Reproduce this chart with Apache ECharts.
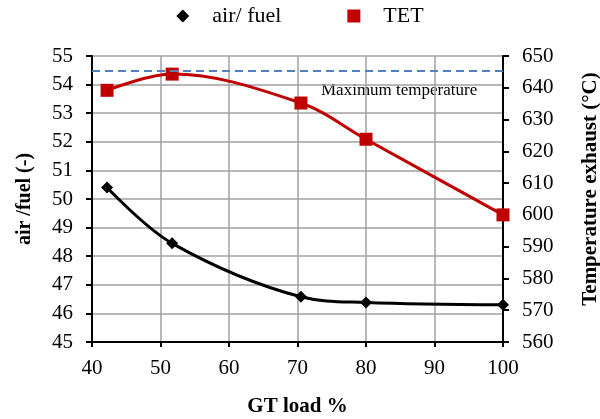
<!DOCTYPE html>
<html><head><meta charset="utf-8">
<script src="https://cdn.jsdelivr.net/npm/echarts@6/dist/echarts.min.js"></script>
<style>html,body{margin:0;padding:0;background:#fff}#c{width:600px;height:419px}</style>
</head><body><div id="c"></div>
<script>
const gtLoad = [42.2, 51.7, 70.5, 80, 100];
const airFuel = [50.4, 48.45, 46.58, 46.38, 46.3];
const tet = [639.2, 644.3, 635.2, 623.8, 600];
const maxTemp = 645.3;
const F = 'Liberation Serif, Times New Roman, serif';
const chart = echarts.init(document.getElementById('c'));
chart.setOption({
  animation: false,
  textStyle: {fontFamily: F},
  legend: {
    top: 0, left: 'center', itemGap: 66, itemWidth: 13, itemHeight: 13,
    textStyle: {fontFamily: F, fontSize: 22, color: '#000', padding: [0, 0, 0, 18]},
    data: [{name: 'air/ fuel', icon: 'diamond'}, {name: 'TET', icon: 'rect'}]
  },
  grid: {left: 92, right: 97, top: 56, bottom: 77, outerBoundsMode: 'none', containLabel: false},
  xAxis: {
    type: 'value', min: 40, max: 100, interval: 10,
    name: 'GT load %', nameLocation: 'middle', nameGap: 54,
    nameTextStyle: {fontFamily: F, fontSize: 21, fontWeight: 'bold', color: '#000'},
    axisLine: {lineStyle: {color: '#000', width: 2}},
    axisTick: {show: true, length: 5, lineStyle: {color: '#000', width: 2}},
    axisLabel: {fontFamily: F, fontSize: 21, color: '#000', margin: 16},
    splitLine: {show: true, lineStyle: {color: '#a0a0a0', width: 1.5}}
  },
  yAxis: [{
    type: 'value', min: 45, max: 55, interval: 1,
    name: 'air /fuel (-)', nameLocation: 'middle', nameGap: 57, nameRotate: 90,
    nameTextStyle: {fontFamily: F, fontSize: 20, fontWeight: 'bold', color: '#000'},
    axisLine: {show: true, lineStyle: {color: '#000', width: 2}},
    axisTick: {show: true, length: 6, lineStyle: {color: '#000', width: 2}},
    axisLabel: {fontFamily: F, fontSize: 21, color: '#000', margin: 19},
    splitLine: {show: true, lineStyle: {color: '#a0a0a0', width: 1.5}}
  }, {
    type: 'value', min: 560, max: 650, interval: 10, position: 'right',
    name: 'Temperature exhaust (°C)', nameLocation: 'middle', nameGap: 77, nameRotate: 90,
    nameTextStyle: {fontFamily: F, fontSize: 21, fontWeight: 'bold', color: '#000', padding: [0, 0, 0, 20]},
    axisLine: {show: true, lineStyle: {color: '#000', width: 2}},
    axisTick: {show: true, length: 6, lineStyle: {color: '#000', width: 2}},
    axisLabel: {fontFamily: F, fontSize: 21, color: '#000', margin: 19},
    splitLine: {show: false}
  }],
  series: [{
    name: 'air/ fuel', type: 'line', yAxisIndex: 0, smooth: 0.35,
    data: gtLoad.map((x, i) => [x, airFuel[i]]),
    symbol: 'diamond', symbolSize: 12,
    itemStyle: {color: '#000'}, lineStyle: {color: '#000', width: 3}
  }, {
    name: 'TET', type: 'line', yAxisIndex: 1, smooth: 0.35,
    data: gtLoad.map((x, i) => [x, tet[i]]),
    symbol: 'rect', symbolSize: 13,
    itemStyle: {color: '#C00000'}, lineStyle: {color: '#C00000', width: 3},
    markLine: {
      silent: true, symbol: 'none',
      lineStyle: {color: '#4F81BD', type: [8, 5], width: 2},
      label: {show: false},
      data: [{yAxis: maxTemp}]
    }
  }],
  graphic: [{
    type: 'text', left: 321, top: 82,
    style: {text: 'Maximum temperature', font: '17px ' + F, fill: '#000'}
  }]
});
</script></body></html>
